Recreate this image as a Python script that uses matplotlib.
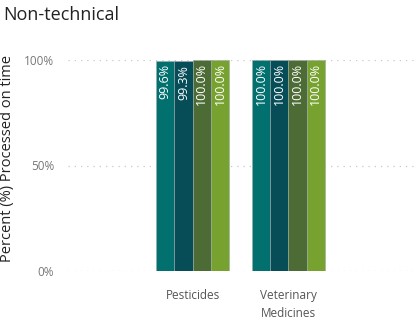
import matplotlib
matplotlib.use("Agg")
import matplotlib.pyplot as plt
import numpy as np

plt.rcParams['font.family'] = ['Open Sans', 'DejaVu Sans']

# data
categories = ['Pesticides', 'Veterinary\nMedicines']
series_1 = [99.6, 100.0]
series_2 = [99.3, 100.0]
series_3 = [100.0, 100.0]
series_4 = [100.0, 100.0]
yticks = [0, 50, 100]
ytick_labels = ['0%', '50%', '100%']

colors = ['#01706f', '#064d58', '#4d6b35', '#77a22f']

fig = plt.figure(figsize=(4.19, 3.29), dpi=100)
ax = fig.add_axes([68/419, 1-271/329, 347/419, 211/329])

x = np.arange(len(categories))
w = 0.19
all_series = [series_1, series_2, series_3, series_4]
for i, s in enumerate(all_series):
    pos = x + (i - 1.5)*w
    bars = ax.bar(pos, s, width=w, color=colors[i], edgecolor='#9aa9a9', linewidth=0.4, zorder=3)
    for b, v in zip(bars, s):
        ax.text(b.get_x() + b.get_width()/2, v - 1.5, f'{v:.1f}%', rotation=90,
                ha='center', va='top', color='white', fontsize=9, zorder=4)

ax.set_xlim(-1.30, 2.32)
ax.set_ylim(0, 100)
ax.set_xticks(x)
ax.set_xticklabels(categories, color='#555555', fontsize=8.5, linespacing=1.5)
ax.set_yticks(yticks)
ax.set_yticklabels(ytick_labels, color='#777777', fontsize=8.5)
ax.tick_params(axis='x', length=0, pad=13)
ax.tick_params(axis='y', length=0, pad=10)
ax.grid(axis='y', color='#c8c8c8', linestyle=(0, (1, 4)), linewidth=0.9, zorder=0)
for sp in ax.spines.values():
    sp.set_visible(False)

ax.set_ylabel('Percent (%) Processed on time', fontsize=10.5, color='#222222')
ax.yaxis.set_label_coords(-0.152, 0.535)
fig.text(3/419, 1-20/329, 'Non-technical', fontsize=13, color='#222222', ha='left', va='baseline')

fig.savefig('out.png', dpi=100)
